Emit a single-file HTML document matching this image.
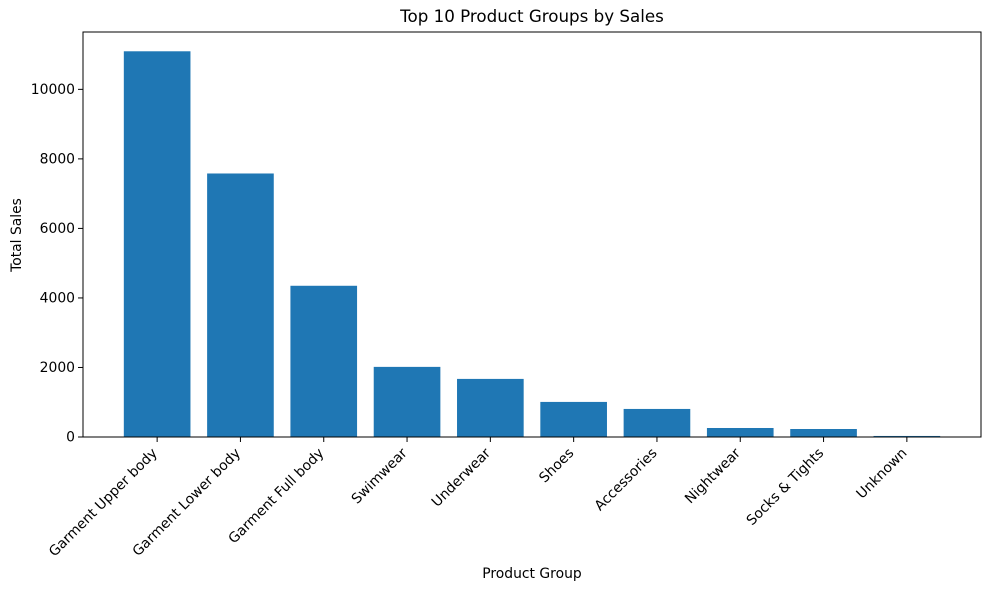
<!DOCTYPE html>
<html><head><meta charset="utf-8">
<style>
html,body{margin:0;padding:0;background:#fff;}
svg{display:block;font-family:"DejaVu Sans","Liberation Sans",sans-serif;}
</style></head>
<body>
<svg id="chart" width="989" height="590" viewBox="0 0 989 590" xmlns="http://www.w3.org/2000/svg">
<rect width="989" height="590" fill="#fff"/>
<text x="532" y="22" text-anchor="middle" font-size="16.7" fill="#000">Top 10 Product Groups by Sales</text>
<text x="532" y="578" text-anchor="middle" font-size="13.9" fill="#000">Product Group</text>
<text transform="translate(21,235) rotate(-90)" text-anchor="middle" font-size="13.9" fill="#000">Total Sales</text>
<g id="bars"></g>
<g id="yticks"></g>
<g id="xticks"></g>
<rect x="83" y="32" width="898" height="405" fill="none" stroke="#000" stroke-width="1"/>
</svg>
<script>
const categories = ["Garment Upper body","Garment Lower body","Garment Full body","Swimwear","Underwear","Shoes","Accessories","Nightwear","Socks & Tights","Unknown"];
const sales = [11095, 7580, 4350, 2017, 1671, 1009, 807, 259, 230, 30];
const yTickValues = [0, 2000, 4000, 6000, 8000, 10000];

const NS = "http://www.w3.org/2000/svg";
const plotLeft = 83, plotRight = 981, plotTop = 32, plotBottom = 437;
const xMin = -0.89, xMax = categories.length - 1 + 0.89;
const yMax = Math.max(...sales) * 1.05;
const xs = v => plotLeft + (v - xMin) / (xMax - xMin) * (plotRight - plotLeft);
const ys = v => plotBottom - v / yMax * (plotBottom - plotTop);
const bw = 0.8 * (xs(1) - xs(0));

const barsG = document.getElementById('bars');
const xtG = document.getElementById('xticks');
const ytG = document.getElementById('yticks');

categories.forEach((c, i) => {
  const r = document.createElementNS(NS, 'rect');
  r.setAttribute('x', xs(i) - bw / 2);
  r.setAttribute('y', ys(sales[i]));
  r.setAttribute('width', bw);
  r.setAttribute('height', ys(0) - ys(sales[i]));
  r.setAttribute('fill', '#1f77b4');
  
  
  barsG.appendChild(r);

  const t = document.createElementNS(NS, 'line');
  t.setAttribute('x1', xs(i)); t.setAttribute('x2', xs(i));
  t.setAttribute('y1', plotBottom); t.setAttribute('y2', plotBottom + 5);
  t.setAttribute('stroke', '#000');
  
  
  xtG.appendChild(t);

  const l = document.createElementNS(NS, 'text');
  const tx = xs(i) - 6, ty = plotBottom + 10;
  l.setAttribute('transform', 'translate(' + tx + ',' + ty + ') rotate(-45)');
  l.setAttribute('text-anchor', 'end');
  l.setAttribute('dominant-baseline', 'hanging');
  l.setAttribute('font-size', '13.9');
  l.textContent = c;
  
  
  xtG.appendChild(l);
});

yTickValues.forEach(v => {
  const t = document.createElementNS(NS, 'line');
  t.setAttribute('x1', plotLeft - 5); t.setAttribute('x2', plotLeft);
  t.setAttribute('y1', ys(v)); t.setAttribute('y2', ys(v));
  t.setAttribute('stroke', '#000');
  
  
  ytG.appendChild(t);

  const l = document.createElementNS(NS, 'text');
  l.setAttribute('x', plotLeft - 8);
  l.setAttribute('y', ys(v) + 4.5);
  l.setAttribute('text-anchor', 'end');
  l.setAttribute('font-size', '13.9');
  l.textContent = v;
  
  
  ytG.appendChild(l);
});
</script>
</body></html>
